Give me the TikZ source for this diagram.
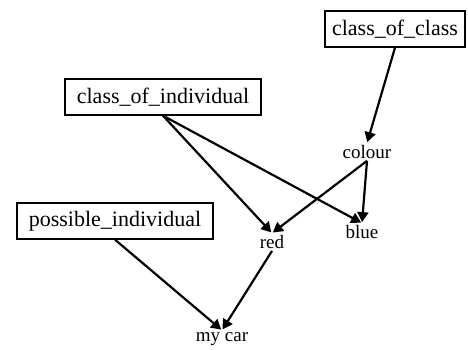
\documentclass[tikz,border=0pt]{standalone}
\usepackage{fontspec}
\setmainfont{Liberation Serif}
\newfontfamily\diagfont{Liberation Serif}
\usetikzlibrary{arrows.meta}
\begin{document}
\begin{tikzpicture}[x=1pt,y=-1pt,
  cls/.style={draw,line width=1.4pt,font=\diagfont\fontsize{22}{24}\selectfont,inner xsep=12pt,minimum height=36pt},
  lbl/.style={font=\diagfont\fontsize{19}{21}\selectfont,inner sep=2pt},
  arr/.style={line width=2.2pt,-{Triangle[length=10pt,width=11pt]},shorten >=1pt}]
\useasboundingbox (0,0) rectangle (468,350);
\node[cls,inner xsep=7pt] (coc) at (395,29) {class\_of\_class};
\node[cls] (coi) at (163,97) {class\_of\_individual};
\node[cls] (pi) at (115,221) {possible\_individual};
\node[lbl] (colour) at (367,152) {colour};
\node[lbl] (blue) at (362,232) {blue};
\node[lbl] (red) at (272,242) {red};
\node[lbl] (car) at (222,339) {my car};
\draw[arr] (coc.south) -- (colour.north);
\draw[arr] (coi.south) -- (red.north);
\draw[arr] (coi.south) -- (blue.north);
\draw[arr] (colour.south) -- (red.north);
\draw[arr] (colour.south) -- (blue.north);
\draw[arr] (red.south) -- (car.north);
\draw[arr] (pi.south) -- (car.north);
\end{tikzpicture}
\end{document}
